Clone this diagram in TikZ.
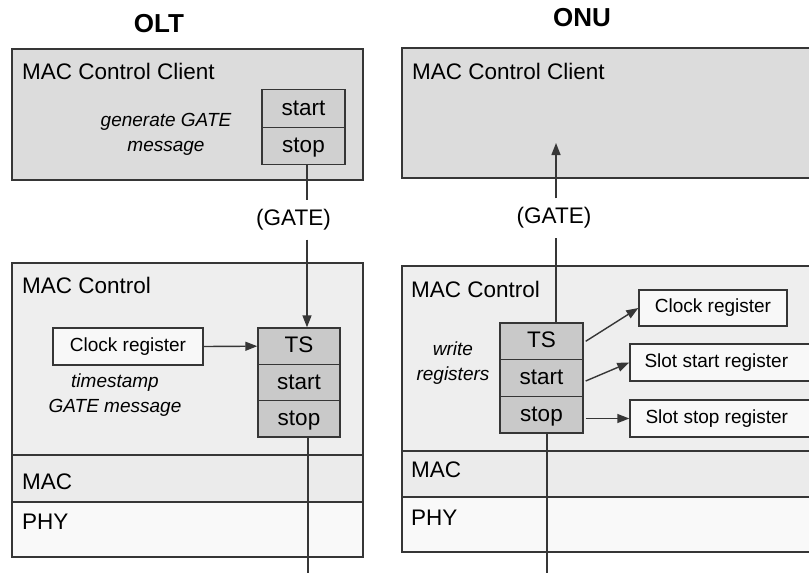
\documentclass[tikz,border=0pt]{standalone}
\usepackage{fontspec}
\setmainfont{Liberation Sans}
\usetikzlibrary{arrows.meta}
\definecolor{linec}{HTML}{363636}
\definecolor{clientgray}{HTML}{DCDCDC}
\definecolor{maccgray}{HTML}{EEEEEE}
\definecolor{macgray}{HTML}{EBEBEB}
\definecolor{phyfill}{HTML}{F9F9F9}
\definecolor{cellgray}{HTML}{C9C9C9}
\definecolor{clientcell}{HTML}{D0D0D0}
\definecolor{regfill}{HTML}{F8F8F8}
\newcommand\fmain{\fontsize{22.5}{27}\selectfont}
\newcommand\fsmall{\fontsize{19}{25}\selectfont}
\newcommand\ftitle{\fontsize{26}{30}\selectfont\bfseries}
\begin{document}
\begin{tikzpicture}[x=1pt,y=-1pt,
  box/.style={draw=linec, line width=1.4pt, inner sep=0pt},
  layer/.style={box, fill=#1},
  cell/.style={box, fill=cellgray, minimum width=83pt, minimum height=36.6pt,
    font=\fmain, text height=15pt, text depth=2pt},
  reg/.style={box, fill=regfill, font=\fsmall, minimum height=37pt},
  lbl/.style={anchor=west, inner sep=0pt, font=\fmain},
  note/.style={font=\fsmall\itshape, align=center, inner sep=0pt},
  gatelbl/.style={font=\fmain, inner xsep=2pt, inner ysep=9pt},
  conn/.style={draw=linec, line width=1.4pt},
  arr/.style={conn, -{Triangle[length=12pt,width=9pt]}}]
\useasboundingbox (0,0) rectangle (809,573);
\clip (0,0) rectangle (809,573);
\fill[white] (0,0) rectangle (809,573);

% titles
\node[font=\ftitle] (tOLT) at (159,24) {OLT};
\node[font=\ftitle] (tONU) at (582,18) {ONU};

% ---------- OLT ----------
\node[layer=clientgray, minimum width=351pt, minimum height=131pt] (oclient) at (187.5,114.5) {};
\node[lbl] (oclientL) at (22,71) {MAC Control Client};
\node[cell, fill=clientcell, minimum height=37.5pt] (ostart) at (303.5,108.5) {start};
\node[cell, fill=clientcell, minimum height=37.5pt] (ostop) at (303.5,146) {stop};
\node[note] (ogen) at (166,134) {generate GATE\\message};

\node[layer=maccgray, minimum width=351pt, minimum height=192pt] (omacc) at (187.5,359) {};
\node[layer=macgray, minimum width=351pt, minimum height=47pt] (omac) at (187.5,478.5) {};
\node[layer=phyfill, minimum width=351pt, minimum height=55pt] (ophy) at (187.5,529.5) {};
\node[lbl] (omaccL) at (22,285) {MAC Control};
\node[lbl] (omacL) at (22,482) {MAC};
\node[lbl] (ophyL) at (22,522) {PHY};

\node[reg, minimum width=150pt] (oclk) at (128,346.5) {Clock register};
\node[note] (ots-note) at (115,395.5) {timestamp\\GATE message};
\node[cell, minimum width=82pt, minimum height=36.33pt] (ots) at (299,346.2) {TS};
\node[cell, minimum width=82pt, minimum height=36.33pt] (ostart2) at (299,382.5) {start};
\node[cell, minimum width=82pt, minimum height=36.33pt] (ostop2) at (299,418.8) {stop};

\node[gatelbl] (gateL) at (293.5,220) {(GATE)};
\coordinate (olx) at (307,0);
\draw[conn] (olx |- ostop.south) -- (olx |- gateL.north);
\draw[arr] (olx |- gateL.south) -- (olx |- ots.north);
\draw[arr] (oclk.east) -- (ots.west);
\coordinate (obot) at (308,580);
\draw[conn] (obot |- ostop2.south) -- (obot);

% ---------- ONU ----------
\node[layer=clientgray, minimum width=428pt, minimum height=130pt] (uclient) at (616,113) {};
\node[lbl] (uclientL) at (412,71) {MAC Control Client};

\node[layer=maccgray, minimum width=428pt, minimum height=185pt] (umacc) at (616,358.5) {};
\node[layer=macgray, minimum width=428pt, minimum height=46pt] (umac) at (616,474) {};
\node[layer=phyfill, minimum width=428pt, minimum height=55pt] (uphy) at (616,524.5) {};
\node[lbl] (umaccL) at (411,289) {MAC Control};
\node[lbl] (umacL) at (411,470) {MAC};
\node[lbl] (uphyL) at (411,518) {PHY};

\node[cell] (uts) at (541.5,341.3) {TS};
\node[cell] (ustart) at (541.5,378) {start};
\node[cell] (ustop) at (541.5,414.7) {stop};
\node[note] (uwrite) at (453,363) {write\\registers};

\node[reg, minimum width=148pt, minimum height=36pt] (uclk) at (713,308) {Clock register};
\node[reg, minimum width=200pt,
  label={[anchor=west, inner sep=0pt, font=\fsmall, xshift=15pt]west:Slot start register}] (uss) at (730,362.5) {};
\node[reg, minimum width=200pt,
  label={[anchor=west, inner sep=0pt, font=\fsmall, xshift=16pt]west:Slot stop register}] (usp) at (730,418.5) {};

\node[gatelbl] (ugate) at (554,218) {(GATE)};
\coordinate (ulx) at (556,0);
\coordinate (utip) at (556,143);
\draw[arr] (ulx |- ugate.north) -- (utip);
\draw[conn] (ulx |- uts.north) -- (ulx |- ugate.south);

\draw[arr] ([xshift=2pt]uts.east) -- (uclk.west);
\draw[arr] ([xshift=2pt,yshift=-3pt]ustart.east) -- (uss.west);
\draw[arr] ([xshift=2pt]ustop.east |- usp.west) -- (usp.west);
\coordinate (ubot) at (547,580);
\draw[conn] (ubot |- ustop.south) -- (ubot);
\end{tikzpicture}
\end{document}
